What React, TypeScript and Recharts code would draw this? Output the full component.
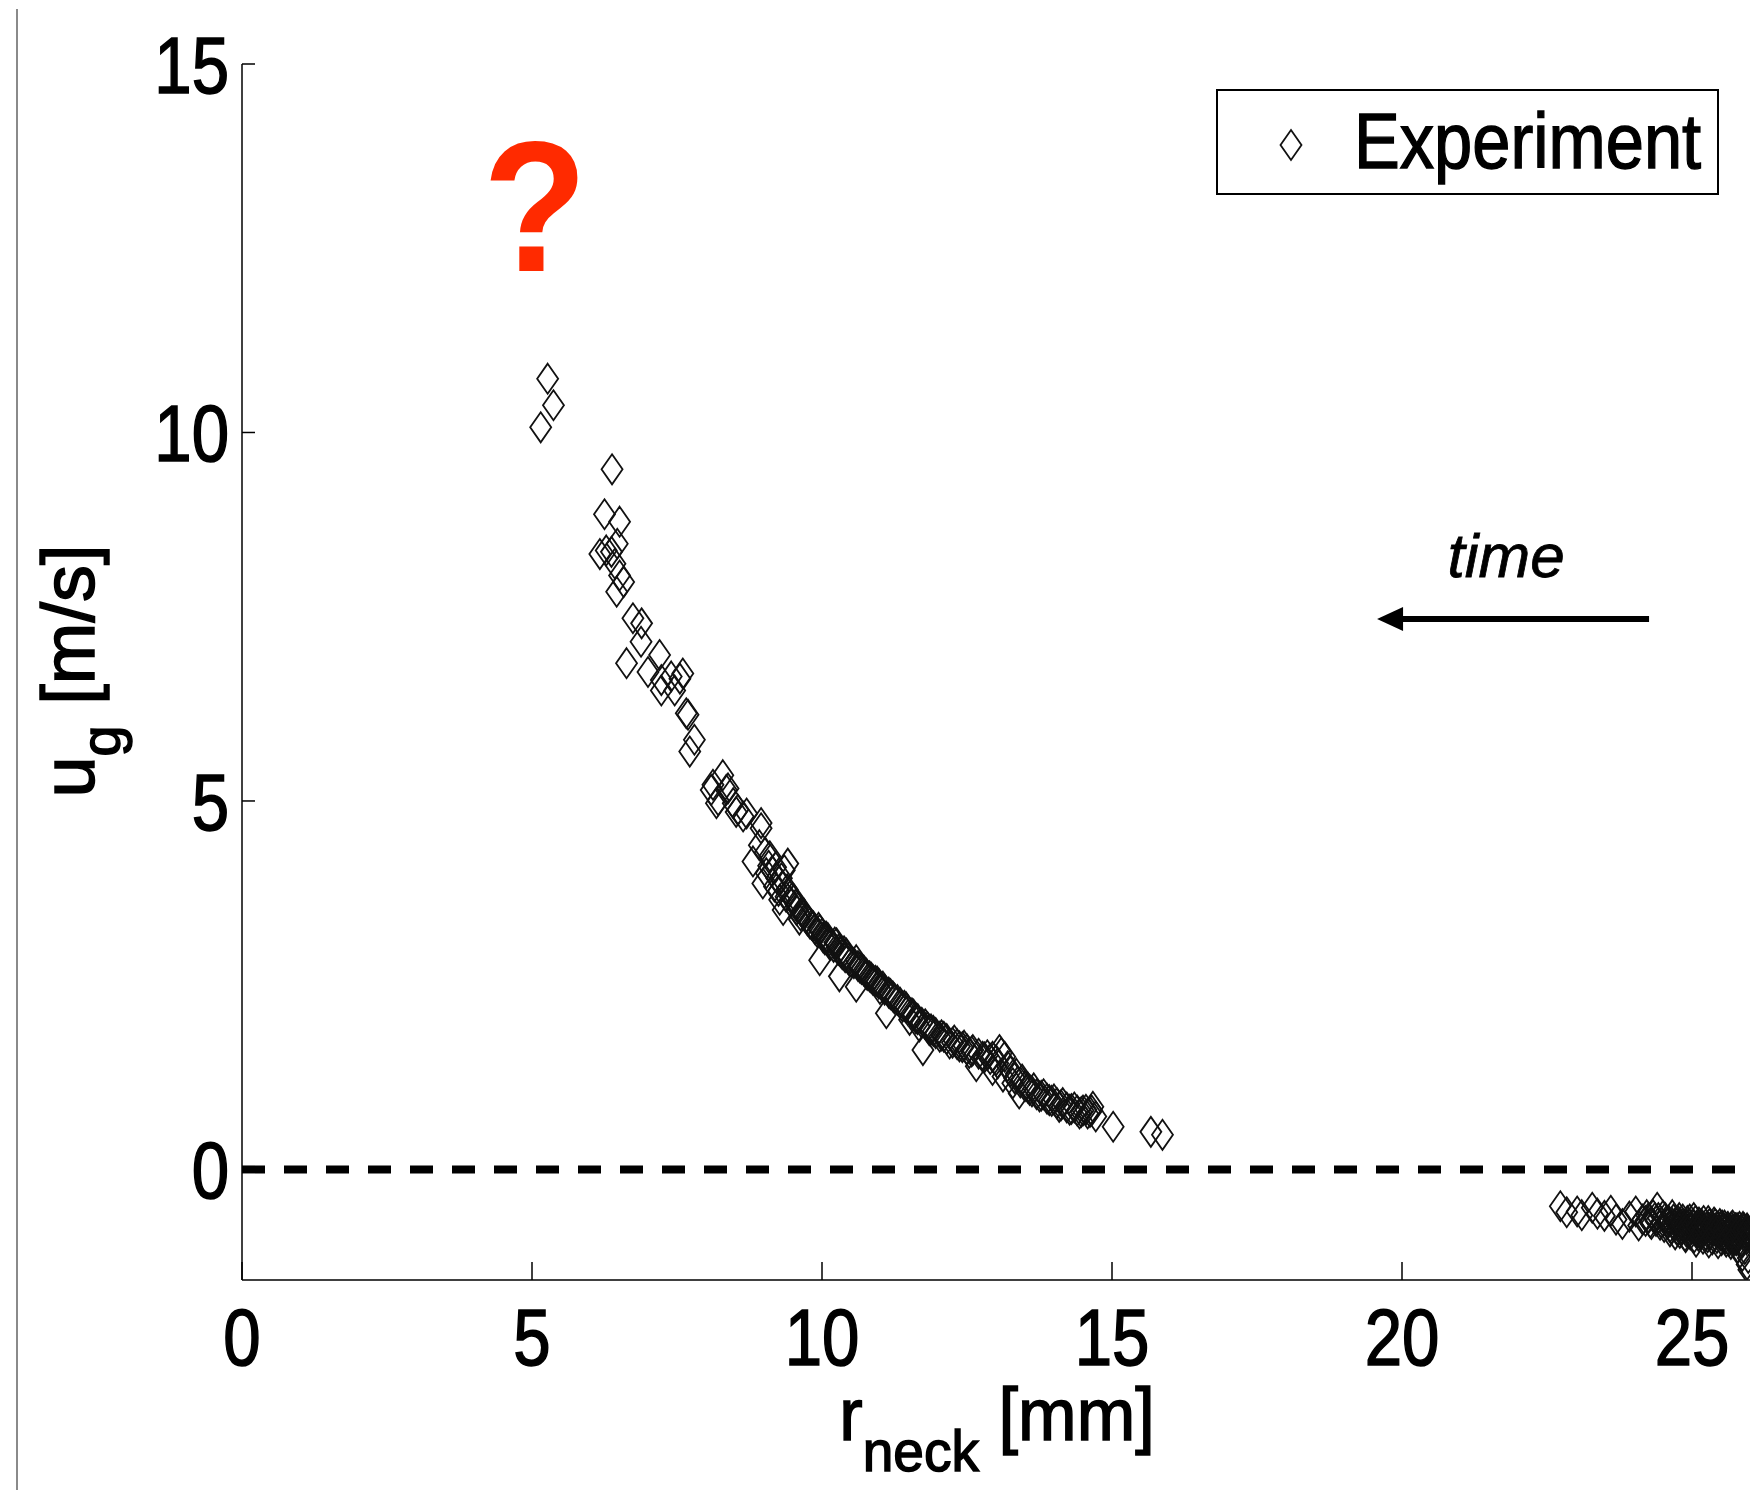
import React from "react";
import {
  ScatterChart,
  Scatter,
  XAxis,
  YAxis,
  ReferenceLine,
  ReferenceDot,
  Legend,
  Label,
} from "recharts";

// neck radius [mm] and gas velocity [m/s], collapse branch
const rNeckLate = [
  5.15, 5.27, 5.37, 6.17, 6.25, 6.28, 6.37, 6.38, 6.43, 6.46, 6.47, 6.51, 6.51, 6.58, 6.63, 6.74, 6.88, 6.89,
  7.0, 7.2, 7.23, 7.23, 7.4, 7.46, 7.55, 7.6, 7.66, 7.69, 7.72, 7.8, 8.09, 8.12, 8.18, 8.21, 8.29, 8.35, 8.38,
  8.47, 8.52, 8.55, 8.64, 8.7, 8.81, 8.92, 8.95, 8.95, 8.98, 9.04, 9.1, 9.18, 9.2, 9.27, 9.3, 9.33, 9.35, 9.4,
  9.41, 9.48, 9.55, 9.56, 9.61, 9.65, 9.72, 9.79, 9.85, 9.92, 9.96, 9.96, 10.02, 10.07, 10.12, 10.2, 10.25,
  10.3, 10.32, 10.4, 10.42, 10.5, 10.59, 10.59, 10.65, 10.72, 10.76, 10.82, 10.88, 10.95, 11.0, 11.05, 11.11,
  11.15, 11.22, 11.3, 11.39, 11.45, 11.51, 11.58, 11.62, 11.68, 11.74, 11.78, 11.85, 11.92, 12.03, 12.1, 12.2,
  12.28, 12.37, 12.45, 12.54, 12.6, 12.66, 12.77, 12.85, 12.94, 12.94, 13.0, 13.06, 13.12, 13.15, 13.2, 13.29,
  13.35, 13.4, 13.45, 13.58, 13.65, 13.75, 13.82, 13.92, 14.0, 14.09, 14.15, 14.27, 14.35, 14.44, 14.5, 14.55,
  14.62, 14.67, 14.72, 15.02, 15.67, 15.87,
  9.02, 9.08, 9.14, 9.22, 9.25, 9.32, 9.38, 9.45, 9.52, 9.58, 9.63, 9.69, 9.75, 9.82, 9.88, 9.94, 10.0, 10.05,
  10.1, 10.15, 10.22, 10.28, 10.35, 10.38, 10.45, 10.55, 10.62, 10.68, 10.78, 10.85, 10.92, 10.98, 11.08,
  11.18, 11.25, 11.35, 11.42, 11.48, 11.55, 11.65, 11.72, 11.82, 11.88, 11.96, 12.06, 12.15, 12.25, 12.33,
  12.42, 12.5, 12.58, 12.7, 12.8, 12.9, 13.03, 13.09, 13.25, 13.32, 13.42, 13.5, 13.55, 13.62, 13.7, 13.78,
  13.88, 13.96, 14.05, 14.12, 14.22, 14.3, 14.4, 14.47, 14.58, 14.65,
];
const uGasLate = [
  10.07, 10.73, 10.37, 8.35, 8.89, 8.4, 8.38, 9.5, 8.22, 7.84, 8.49, 8.79, 8.06, 7.97, 6.87, 7.48, 7.16, 7.41,
  6.75, 6.98, 6.64, 6.5, 6.69, 6.5, 6.66, 6.73, 6.19, 6.17, 5.67, 5.83, 5.15, 5.22, 4.97, 5.01, 5.35, 5.15, 5.17,
  4.97, 4.85, 4.88, 4.79, 4.83, 4.18, 4.4, 4.7, 4.63, 3.88, 4.02, 4.25, 3.84, 4.1, 3.66, 3.95, 3.52, 4.06, 3.8,
  4.15, 3.68, 3.6, 3.52, 3.39, 3.5, 3.42, 3.34, 3.3, 3.22, 3.25, 2.84, 3.15, 3.16, 3.1, 3.02, 3.07,
  2.62, 2.95, 2.88, 2.93, 2.82, 2.84, 2.48, 2.74, 2.7, 2.66, 2.62, 2.57, 2.55, 2.45, 2.48, 2.12,
  2.4, 2.35, 2.3, 2.21, 2.2, 2.03, 2.1, 2.05, 1.94, 1.62, 1.97, 1.89, 1.88, 1.8, 1.8, 1.71,
  1.75, 1.67, 1.68, 1.58, 1.62, 1.4, 1.53, 1.55, 1.53, 1.35, 1.48, 1.62, 1.26, 1.53, 1.4, 1.17,
  1.3, 1.03, 1.22, 1.08, 1.1, 0.99, 1.02, 0.94, 0.95, 0.85, 0.9, 0.81, 0.84, 0.76, 0.8, 0.81,
  0.78, 0.85, 0.72, 0.58, 0.51, 0.47,
  4.3, 4.12, 4.05, 3.95, 3.78, 3.85, 3.7, 3.64, 3.66, 3.55, 3.45, 3.47, 3.38, 3.32, 3.26, 3.28, 3.2, 3.12,
  3.14, 3.05, 3.08, 2.98, 2.92, 2.96, 2.86, 2.8, 2.76, 2.72, 2.64, 2.6, 2.56, 2.52, 2.44,
  2.38, 2.32, 2.26, 2.22, 2.16, 2.12, 2.04, 1.99, 1.93, 1.9, 1.85, 1.82, 1.77, 1.72, 1.7,
  1.66, 1.63, 1.6, 1.57, 1.52, 1.5, 1.44, 1.58, 1.33, 1.24, 1.18, 1.13, 1.11, 1.06, 1.02, 1.0,
  0.96, 0.93, 0.9, 0.87, 0.84, 0.82, 0.8, 0.78, 0.76, 0.8,
];

// early branch, negative velocity
const rNeckEarly = [
  22.73, 22.84, 23.02, 23.1, 23.28, 23.37, 23.49, 23.6, 23.69, 23.8, 23.92, 24.03, 24.08, 24.15, 24.22, 24.28,
  24.36, 24.4, 24.45, 24.5, 24.56, 24.62, 24.66, 24.72, 24.78, 24.82, 24.89, 24.92, 24.98, 25.03, 25.08, 25.12,
  25.18, 25.24, 25.28, 25.34, 25.4, 25.46, 25.52, 25.58, 25.63, 25.68, 25.72, 25.78, 25.83, 25.88, 25.93, 25.97,
  25.79, 25.87, 25.95,
  24.2, 24.25, 24.3, 24.33, 24.38, 24.42, 24.47, 24.52, 24.54, 24.58, 24.6, 24.64, 24.68, 24.7, 24.74, 24.76,
  24.8, 24.84, 24.86, 24.9, 24.94, 24.96, 25.0, 25.02, 25.06, 25.1, 25.14, 25.16, 25.2, 25.22, 25.26, 25.3,
  25.32, 25.36, 25.38, 25.42, 25.44, 25.48, 25.5, 25.54, 25.56, 25.6, 25.62, 25.66, 25.7, 25.74, 25.76, 25.8,
  25.82, 25.86, 25.9, 25.92, 25.95, 25.98, 25.74, 25.66, 25.84, 25.91, 25.97, 25.98,
  24.62, 24.71, 24.79, 24.88, 24.97, 25.04, 25.11, 25.19, 25.27, 25.35, 25.43, 25.51, 25.57, 25.64, 25.71,
  25.77, 25.85, 25.94, 24.66, 24.75, 24.83, 24.93, 25.01, 25.09, 25.17, 25.25, 25.33, 25.41, 25.49, 25.55,
  25.61, 25.69, 25.75, 25.81, 25.89, 25.96, 25.07, 25.29, 25.45, 25.59, 25.67, 25.87,
];
const uGasEarly = [
  -0.5, -0.58, -0.57, -0.62, -0.52, -0.6, -0.63, -0.56, -0.68, -0.74, -0.64, -0.57, -0.76, -0.68, -0.62, -0.72,
  -0.66, -0.52, -0.75, -0.63, -0.7, -0.78, -0.62, -0.72, -0.66, -0.8, -0.92, -0.7, -0.78, -0.66, -0.84, -0.72,
  -0.78, -0.9, -0.7, -0.82, -0.74, -0.86, -0.76, -0.82, -0.88, -0.78, -0.9, -0.8, -0.86, -0.78, -0.9, -0.84,
  -1.06, -1.17, -1.29,
  -0.7, -0.66, -0.74, -0.62, -0.7, -0.66, -0.72, -0.78, -0.66, -0.74, -0.7, -0.8, -0.68, -0.76, -0.82, -0.7,
  -0.74, -0.68, -0.78, -0.84, -0.74, -0.68, -0.8, -0.74, -0.7, -0.78, -0.86, -0.74, -0.7, -0.82, -0.78, -0.74,
  -0.88, -0.78, -0.72, -0.84, -0.78, -0.74, -0.9, -0.8, -0.76, -0.86, -0.78, -0.82, -0.76, -0.86, -0.8, -0.9,
  -0.78, -0.84, -0.8, -0.86, -0.8, -0.88, -0.96, -0.94, -1.0, -1.08, -1.2, -1.36,
  -0.84, -0.88, -0.86, -0.9, -0.88, -0.92, -0.9, -0.94, -0.92, -0.95, -0.93, -0.96, -0.94, -0.97, -0.95,
  -0.96, -0.97, -0.95, -0.73, -0.76, -0.74, -0.77, -0.75, -0.78, -0.76, -0.79, -0.77, -0.8, -0.78, -0.81,
  -0.79, -0.82, -0.8, -0.83, -0.81, -0.82, -0.98, -0.99, -1.0, -0.98, -1.01, -0.99,
];

const xTicks = [0, 5, 10, 15, 20, 25];
const yTicks = [0, 5, 10, 15];

const questionAt = { x: 5.05, y: 12.19 };
const arrowTipAt = { x: 19.57, y: 7.47 };

const data = [
  ...rNeckLate.map((x, i) => ({ x, y: uGasLate[i] })),
  ...rNeckEarly.map((x, i) => ({ x, y: uGasEarly[i] })),
];

const FONT = "'Liberation Sans', Arial, Helvetica, sans-serif";
const SQUEEZE = 0.84;

function Diamond(props: any) {
  const { cx, cy } = props;
  if (cx == null || cy == null) return null;
  const w = 10.5;
  const h = 15;
  return (
    <polygon
      points={`${cx},${cy - h} ${cx + w},${cy} ${cx},${cy + h} ${cx - w},${cy}`}
      fill="none"
      stroke="#111"
      strokeWidth={1.8}
    />
  );
}

function XTick(props: any) {
  const { x, y, payload } = props;
  return (
    <g>
      <line x1={x} y1={y} x2={x} y2={y - 18} stroke="#000" strokeWidth={1.5} />
      <g transform={`translate(${x},${y + 85}) scale(${SQUEEZE},1)`}>
        <text x={0} y={0} textAnchor="middle" fontSize={80} fontFamily={FONT} fill="#000" stroke="#000" strokeWidth={1.6}>
          {payload.value}
        </text>
      </g>
    </g>
  );
}

function YTick(props: any) {
  const { x, y, payload } = props;
  return (
    <g>
      <line x1={x} y1={y} x2={x + 13} y2={y} stroke="#000" strokeWidth={1.5} />
      <g transform={`translate(${x - 13},${y + 29}) scale(${SQUEEZE},1)`}>
        <text x={0} y={0} textAnchor="end" fontSize={80} fontFamily={FONT} fill="#000" stroke="#000" strokeWidth={1.6}>
          {payload.value}
        </text>
      </g>
    </g>
  );
}

function YTitle(props: any) {
  const { viewBox } = props;
  const x = viewBox.x + 94;
  const y = 671;
  return (
    <text
      transform={`translate(${x},${y}) rotate(-90)`}
      textAnchor="middle"
      fontFamily={FONT}
      fontSize={74}
      fill="#000"
      stroke="#000"
      strokeWidth={1.5}
    >
      <tspan>u</tspan>
      <tspan dy={26} fontSize={56}>g</tspan>
      <tspan dy={-26}> [m/s]</tspan>
    </text>
  );
}

function XTitle(props: any) {
  const { viewBox } = props;
  const cx = 997;
  const y = viewBox.y + 160;
  return (
    <g transform={`translate(${cx},${y}) scale(0.95,1)`}>
      <text x={0} y={0} textAnchor="middle" fontFamily={FONT} fontSize={74} fill="#000" stroke="#000" strokeWidth={1.5}>
        <tspan>r</tspan>
        <tspan dy={31} fontSize={58}>neck</tspan>
        <tspan dy={-31}> [mm]</tspan>
      </text>
    </g>
  );
}

function QuestionMark(props: any) {
  const { cx, cy } = props;
  return (
    <g transform={`translate(${cx},${cy}) scale(0.92,1)`}>
      <text x={0} y={0} textAnchor="middle" fontFamily={FONT} fontWeight="bold" fontSize={186} fill="#ff2a00">
        ?
      </text>
    </g>
  );
}

function TimeArrow(props: any) {
  const { cx, cy } = props;
  return (
    <g>
      <text x={cx + 129} y={cy - 42} textAnchor="middle" fontFamily={FONT} fontStyle="italic" fontSize={62} fill="#000" stroke="#000" strokeWidth={0.8}>
        time
      </text>
      <line x1={cx + 20} y1={cy} x2={cx + 272} y2={cy} stroke="#000" strokeWidth={6} />
      <polygon points={`${cx},${cy} ${cx + 26},${cy - 12} ${cx + 26},${cy + 12}`} fill="#000" />
    </g>
  );
}

function LegendBox() {
  return (
    <div
      style={{
        width: 503,
        height: 106,
        boxSizing: "border-box",
        border: "2px solid #000",
        background: "#fff",
        position: "relative",
        fontFamily: FONT,
      }}
    >
      <svg width={40} height={40} style={{ position: "absolute", left: 53, top: 34 }}>
        <Diamond cx={20} cy={20} />
      </svg>
      <div
        style={{
          position: "absolute",
          left: 136,
          top: 0,
          lineHeight: "100px",
          fontSize: 78,
          color: "#000",
          whiteSpace: "nowrap",
          WebkitTextStroke: "1.4px #000",
          transform: "scaleX(0.88)",
          transformOrigin: "left center",
        }}
      >
        Experiment
      </div>
    </div>
  );
}

export default function App() {
  return (
    <div style={{ position: "absolute", left: 0, top: 0, width: 1750, height: 1490, background: "#fff" }}>
      <div style={{ position: "absolute", left: 16, top: 9, width: 1.5, height: 1481, background: "#8a8a8a" }} />
      <ScatterChart width={1750} height={1490} margin={{ top: 64, right: 0, bottom: 0, left: 0 }}>
        <XAxis
          type="number"
          dataKey="x"
          domain={[0, 26]}
          ticks={xTicks}
          interval={0}
          allowDataOverflow
          height={210}
          tickSize={0}
          tickMargin={0}
          tickLine={false}
          axisLine={{ stroke: "#000", strokeWidth: 1.5 }}
          tick={<XTick />}
        >
          <Label content={<XTitle />} />
        </XAxis>
        <YAxis
          type="number"
          dataKey="y"
          domain={[-1.5, 15]}
          ticks={yTicks}
          interval={0}
          allowDataOverflow
          width={242}
          tickSize={0}
          tickMargin={0}
          tickLine={false}
          axisLine={{ stroke: "#000", strokeWidth: 1.5 }}
          tick={<YTick />}
        >
          <Label content={<YTitle />} />
        </YAxis>
        <ReferenceLine y={0} stroke="#000" strokeWidth={8} strokeDasharray="23 19" />
        <Scatter name="Experiment" data={data} shape={<Diamond />} isAnimationActive={false} />
        <ReferenceDot x={questionAt.x} y={questionAt.y} r={0} shape={<QuestionMark />} />
        <ReferenceDot x={arrowTipAt.x} y={arrowTipAt.y} r={0} shape={<TimeArrow />} />
        <Legend
          layout="horizontal"
          verticalAlign="middle"
          align="center"
          content={<LegendBox />}
          wrapperStyle={{ left: 1216, top: 89, width: 503, height: 106 }}
        />
      </ScatterChart>
    </div>
  );
}
